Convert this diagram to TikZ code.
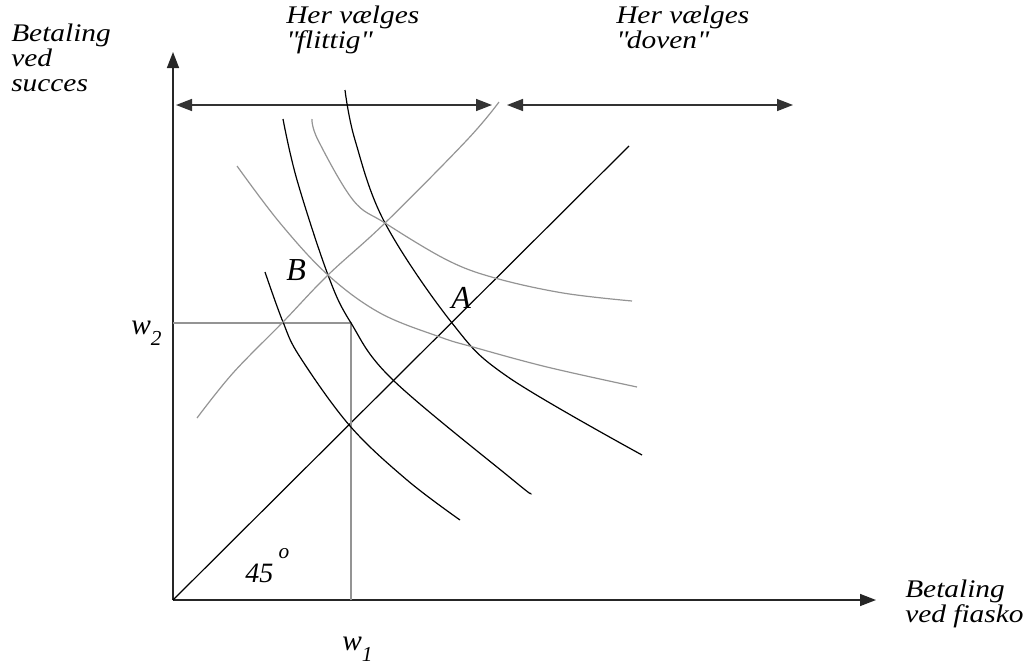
\documentclass[tikz,border=0pt]{standalone}
\usepackage{fontspec}
\setmainfont{Liberation Serif}[FakeStretch=1.16]
\newfontfamily\plainserif{Liberation Serif}
\usetikzlibrary{arrows.meta}
\newcommand{\wsub}[1]{\raisebox{-0.4em}{\fontsize{16}{16}\selectfont #1}}

\begin{document}
\begin{tikzpicture}[
            x=0.75pt, y=-0.75pt,
            font=\fontsize{19}{18.5}\selectfont\itshape,
            axis/.style={line width=1.1pt, draw=black!85, -{Triangle[length=12pt,width=9pt]}},
            span/.style={line width=1.1pt, draw=black!80, {Triangle[length=12pt,width=9pt]}-{Triangle[length=12pt,width=9pt]}},
            curve/.style={line width=0.9pt, black},
            gcurve/.style={line width=0.9pt, black!42},
            lbl/.style={anchor=base west, inner sep=0pt, align=left},
            sym/.style={lbl, font=\plainserif\fontsize{22}{22}\selectfont\itshape}
        ]
            \useasboundingbox (0,0) rectangle (1032,665);
            % axes
            \coordinate (O) at (173,600);
            \coordinate (ytop) at (173,52);
            \coordinate (xend) at (876,600);
            \draw[axis] (O) -- (ytop);
            \draw[axis] (O) -- (xend);
            % ranges
            \coordinate (fl1) at (176,105);
            \coordinate (fl2) at (492,105);
            \coordinate (do1) at (507,105);
            \coordinate (do2) at (793,105);
            \draw[span] (fl1) -- (fl2);
            \draw[span] (do1) -- (do2);
            % 45 degree line
            \coordinate (diag) at (629,146);
            \draw[curve] (O) -- (diag);
            % w1, w2
            \coordinate (wpt) at (351,323);
            \coordinate (wy) at (173,323);
            \coordinate (wx) at (351,600);
            \draw[gcurve] (wy) -- (wpt) -- (wx);
            % black curves
            \draw[curve] plot[smooth, tension=0.6] coordinates {(265,272) (283,322) (300,357) (350,426) (407,480) (460,520)};
            \draw[curve] plot[smooth, tension=0.6] coordinates {(283,119) (297,180) (328,275) (351,323) (393,380) (513,480) (530,493)};
            \draw[curve] plot[smooth, tension=0.6] coordinates {(345,90) (355,140) (385,223) (452,323) (508,377) (642,455)};
            % grey curves
            \draw[gcurve] plot[smooth, tension=0.6] coordinates {(312,119) (318,140) (353,200) (385,223) (447,260) (495,278) (563,293) (632,301)};
            \draw[gcurve] plot[smooth, tension=0.6] coordinates {(237,166) (280,223) (328,275) (380,313) (440,337) (473,347) (547,367) (637,387)};
            \draw[gcurve] plot[smooth, tension=0.6] coordinates {(197,418) (233,373) (283,322) (328,275) (385,223) (467,140) (499,102)};
            % labels
            \node[lbl] (ylab) at (11,91) {Betaling\\ved\\succes};
            \node[lbl] (xlab) at (905,622) {Betaling\\ved fiasko};
            \node[lbl] (flittig) at (286,48) {Her vælges\\\textquotedbl flittig\textquotedbl};
            \node[lbl] (doven) at (616,48) {Her vælges\\\textquotedbl doven\textquotedbl};
            \node[sym] (wtwo) at (131,334) {w\wsub{2}};
            \node[sym] (wone) at (342,650) {w\wsub{1}};
            \node[sym, font=\plainserif\fontsize{21}{21}\selectfont\itshape] (angle) at (245,582) {45\hspace{4pt}\raisebox{0.85em}{\fontsize{16}{16}\selectfont o}};
            \node[sym, font=\plainserif\fontsize{24}{24}\selectfont\itshape] (ptB) at (286,280) {B};
            \node[sym, font=\plainserif\fontsize{24}{24}\selectfont\itshape] (ptA) at (451,308) {A};
        \end{tikzpicture}
\end{document}
